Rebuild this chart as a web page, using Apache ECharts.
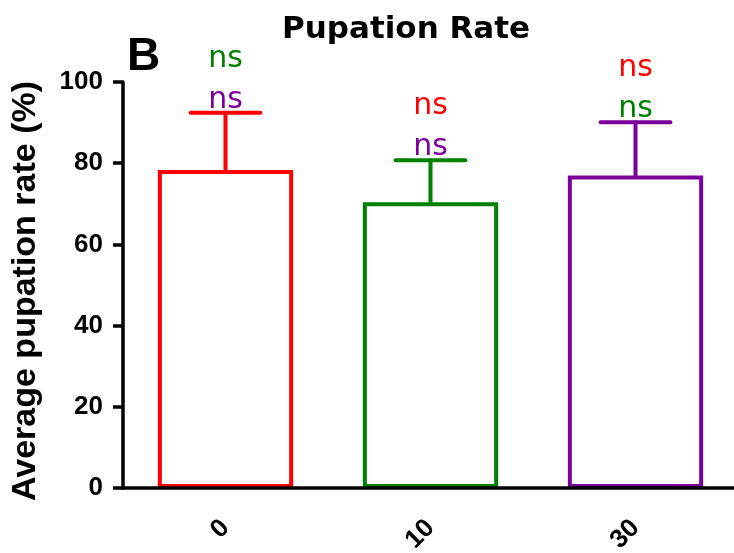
<!DOCTYPE html>
<html>
<head>
<meta charset="utf-8">
<script src="https://cdn.jsdelivr.net/npm/echarts@6/dist/echarts.min.js"></script>
<style>
  html, body { margin: 0; padding: 0; background: #fff; }
  #chart { width: 734px; height: 553px; }
</style>
</head>
<body>
<div id="chart"></div>
<script>
// Pupation rate per dose group: mean with upper SD whisker
const categories = ['0', '10', '30'];
const means = [78.3, 70.4, 77.0];
const sds = [14.1, 10.3, 13.1];
const yTicks = [0, 20, 40, 60, 80, 100];

// significance marks drawn above each whisker (lower line, upper line)
const sigLower = ['ns', 'ns', 'ns'];
const sigUpper = ['ns', 'ns', 'ns'];

const groupColors = ['#ff0000', '#008000', '#7a0099'];
const sigLowerColors = ['#7a0099', '#7a0099', '#008000'];
const sigUpperColors = ['#008000', '#ff0000', '#ff0000'];

const BOLD = '"Liberation Sans", Arial, sans-serif';

const chart = echarts.init(document.getElementById('chart'), null, { renderer: 'canvas' });

const barData = means.map((m, i) => ({
  value: m,
  itemStyle: { color: 'rgba(255,255,255,0)', borderColor: groupColors[i], borderWidth: 4 }
}));
const errData = means.map((m, i) => [i, m, m + sds[i]]);

chart.setOption({
  animation: false,
  backgroundColor: '#ffffff',
  title: {
    text: 'Pupation Rate',
    left: 277,
    top: 9,
    textStyle: { fontFamily: '"DejaVu Sans", sans-serif', fontWeight: 'bold', fontSize: 31, color: '#000' }
  },
  graphic: [{
    type: 'text',
    left: 127,
    top: 34,
    style: { text: 'B', font: 'bold 46px "Liberation Sans", Arial, sans-serif', fill: '#000' }
  }],
  grid: { left: 123, width: 615, top: 82, bottom: 65, containLabel: false, outerBoundsMode: 'none' },
  xAxis: {
    type: 'category',
    data: categories,
    z: 5,
    axisLine: { lineStyle: { color: '#000', width: 3.5 } },
    axisTick: { alignWithLabel: true, length: 12, lineStyle: { color: '#000', width: 3.5 } },
    axisLabel: { rotate: 45, margin: 36, fontFamily: BOLD, fontWeight: 'bold', fontSize: 26, color: '#000' }
  },
  yAxis: {
    type: 'value',
    min: yTicks[0],
    max: yTicks[yTicks.length - 1],
    interval: yTicks[1] - yTicks[0],
    z: 5,
    name: 'Average pupation rate (%)',
    nameLocation: 'middle',
    nameRotate: 90,
    nameGap: 80,
    nameTextStyle: { fontFamily: BOLD, fontWeight: 'bold', fontSize: 34, color: '#000', padding: [0, 12, 0, 0] },
    splitLine: { show: false },
    axisLine: { show: true, lineStyle: { color: '#000', width: 3.5 } },
    axisTick: { show: true, length: 10, lineStyle: { color: '#000', width: 3.5 } },
    axisLabel: { margin: 20, fontFamily: BOLD, fontWeight: 'bold', fontSize: 26, color: '#000' }
  },
  series: [
    {
      type: 'bar',
      data: barData,
      barWidth: '66%',
      z: 2
    },
    {
      type: 'custom',
      data: errData,
      clip: false,
      z: 3,
      renderItem: function (params, api) {
        const i = api.value(0);
        const base = api.coord([i, api.value(1)]);
        const top = api.coord([i, api.value(2)]);
        const capHalf = api.size([1, 0])[0] * 0.17;
        const color = groupColors[i];
        const stroke = { stroke: color, lineWidth: 4, lineCap: 'round' };
        const font = '30px "DejaVu Sans", sans-serif';
        return {
          type: 'group',
          children: [
            { type: 'line', shape: { x1: top[0], y1: base[1], x2: top[0], y2: top[1] }, style: stroke },
            { type: 'line', shape: { x1: top[0] - capHalf, y1: top[1], x2: top[0] + capHalf, y2: top[1] }, style: stroke },
            { type: 'text', x: top[0], y: top[1] - 13,
              style: { text: sigLower[i], font: font, fill: sigLowerColors[i], align: 'center', verticalAlign: 'middle' } },
            { type: 'text', x: top[0], y: top[1] - 54,
              style: { text: sigUpper[i], font: font, fill: sigUpperColors[i], align: 'center', verticalAlign: 'middle' } }
          ]
        };
      }
    }
  ]
});
</script>
</body>
</html>
